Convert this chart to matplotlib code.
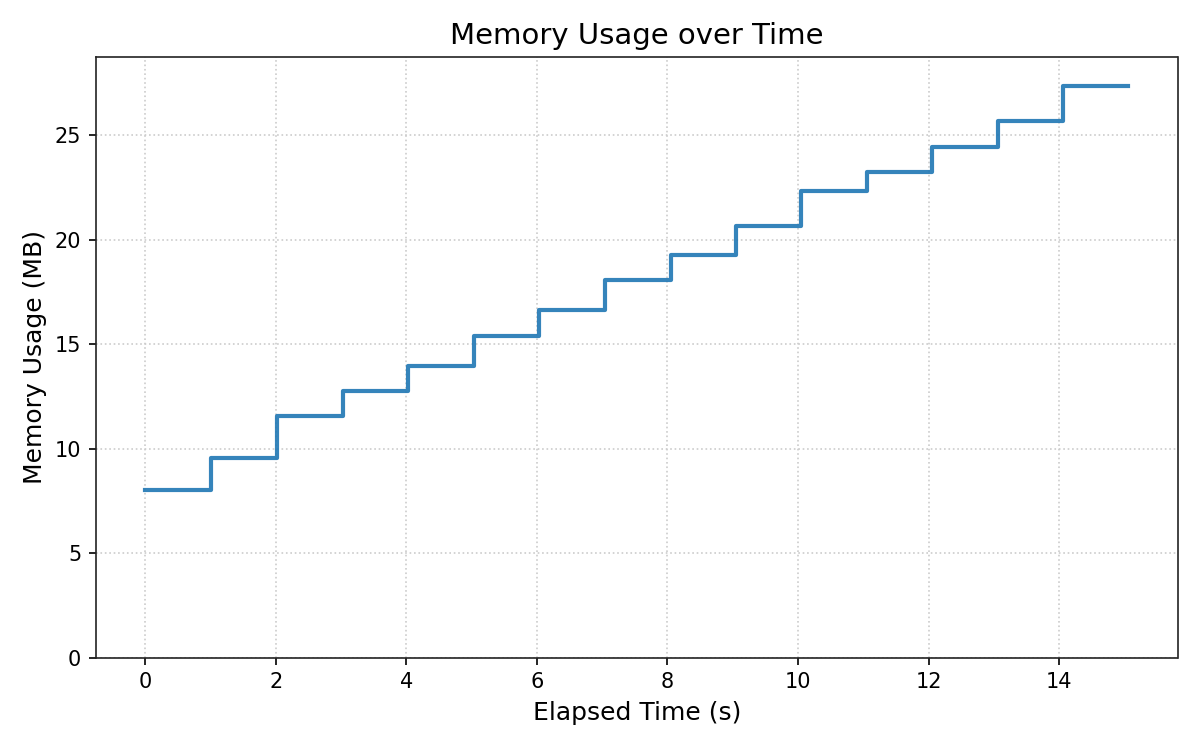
import matplotlib
matplotlib.use("Agg")
import matplotlib.pyplot as plt

elapsed_s = [0.0, 1.01, 2.02, 3.03, 4.03, 5.04, 6.04, 7.05, 8.05, 9.05, 10.05, 11.06, 12.06, 13.06, 14.06, 15.06]
memory_mb = [8.04, 9.57, 11.55, 12.74, 13.96, 15.39, 16.63, 18.07, 19.26, 20.65, 22.34, 23.25, 24.45, 25.69, 27.37, 27.37]

fig, ax = plt.subplots(figsize=(8, 5), dpi=150)
ax.step(elapsed_s, memory_mb, where="post", color="#1f77b4", alpha=0.9, linewidth=2)
ax.set_ylim(0, max(memory_mb) * 1.05)
ax.set_title("Memory Usage over Time", fontsize=14)
ax.set_xlabel("Elapsed Time (s)", fontsize=12)
ax.set_ylabel("Memory Usage (MB)", fontsize=12)
ax.grid(True, linestyle=":", color="#cccccc", linewidth=0.8)
ax.set_axisbelow(True)
for s in ax.spines.values():
    s.set_color("#222222")
fig.tight_layout()
fig.subplots_adjust(bottom=0.123)
fig.savefig("out.png", dpi=150)
